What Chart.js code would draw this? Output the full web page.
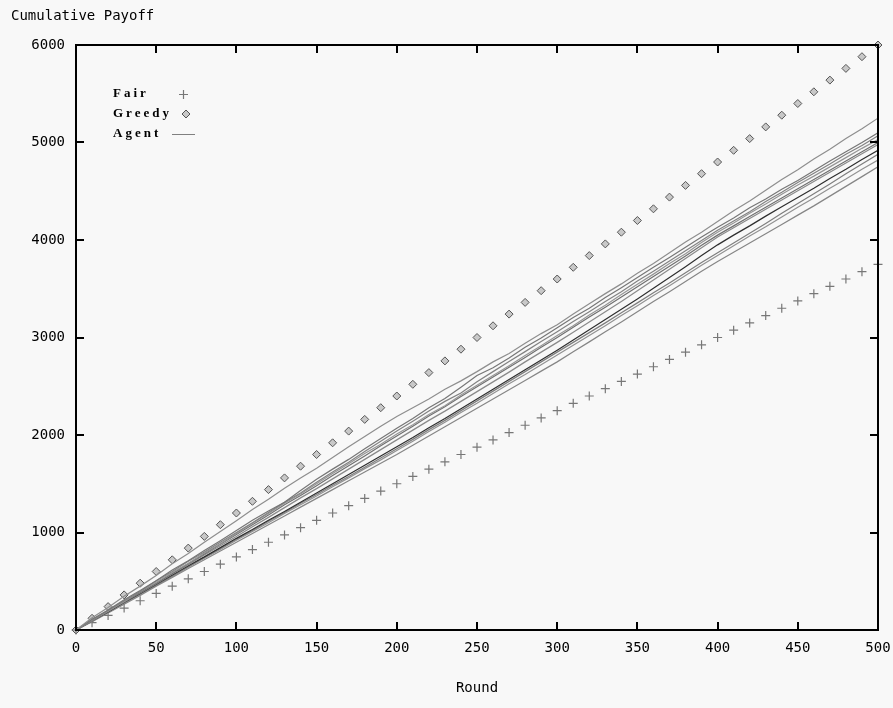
<!DOCTYPE html>
<html>
<head>
<meta charset="utf-8">
<script src="https://cdn.jsdelivr.net/npm/chart.js@4.4.1/dist/chart.umd.min.js"></script>
<style>
  html, body { margin: 0; padding: 0; background: #f8f8f8; }
  #wrap { width: 893px; height: 708px; }
</style>
</head>
<body>
<div id="wrap"><canvas id="payoffChart"></canvas></div>
<script>
// rounds sampled every 10
const rounds = [0, 10, 20, 30, 40, 50, 60, 70, 80, 90, 100, 110, 120, 130, 140, 150, 160, 170, 180, 190,
  200, 210, 220, 230, 240, 250, 260, 270, 280, 290, 300, 310, 320, 330, 340, 350, 360, 370, 380, 390,
  400, 410, 420, 430, 440, 450, 460, 470, 480, 490, 500];

const fair = [0, 75, 150, 225, 300, 375, 450, 525, 600, 675, 750, 825, 900, 975, 1050, 1125, 1200, 1275, 1350, 1425,
  1500, 1575, 1650, 1725, 1800, 1875, 1950, 2025, 2100, 2175, 2250, 2325, 2400, 2475, 2550, 2625, 2700, 2775, 2850, 2925,
  3000, 3075, 3150, 3225, 3300, 3375, 3450, 3525, 3600, 3675, 3750];

const greedy = [0, 120, 240, 360, 480, 600, 720, 840, 960, 1080, 1200, 1320, 1440, 1560, 1680, 1800, 1920, 2040, 2160, 2280,
  2400, 2520, 2640, 2760, 2880, 3000, 3120, 3240, 3360, 3480, 3600, 3720, 3840, 3960, 4080, 4200, 4320, 4440, 4560, 4680,
  4800, 4920, 5040, 5160, 5280, 5400, 5520, 5640, 5760, 5880, 6000];

// agent runs
const agent1 = [0, 125, 230, 345, 450, 560, 680, 785, 900, 1010, 1120,
  1235, 1340, 1455, 1560, 1660, 1770, 1880, 1985, 2090, 2190,
  2280, 2370, 2470, 2555, 2650, 2750, 2835, 2940, 3040, 3130,
  3240, 3345, 3450, 3550, 3660, 3760, 3870, 3980, 4080, 4190,
  4300, 4400, 4510, 4620, 4720, 4830, 4930, 5040, 5140, 5250];
const agent2 = [0, 110, 205, 310, 405, 505, 615, 710, 815, 915, 1020,
  1125, 1220, 1310, 1430, 1545, 1650, 1750, 1860, 1965, 2070,
  2170, 2280, 2375, 2490, 2610, 2690, 2790, 2900, 2995, 3100,
  3205, 3300, 3410, 3510, 3615, 3720, 3820, 3925, 4030, 4130,
  4225, 4330, 4420, 4520, 4610, 4710, 4810, 4905, 5000, 5100];
const agent3 = [0, 95, 200, 300, 395, 505, 600, 705, 800, 900, 1000,
  1100, 1205, 1310, 1405, 1515, 1620, 1720, 1830, 1935, 2040,
  2140, 2245, 2345, 2430, 2545, 2650, 2755, 2855, 2960, 3060,
  3165, 3265, 3370, 3470, 3580, 3680, 3785, 3890, 3995, 4100,
  4195, 4290, 4395, 4490, 4590, 4685, 4780, 4880, 4970, 5070];
const agent4 = [0, 100, 195, 290, 395, 490, 590, 685, 790, 885, 990,
  1095, 1195, 1300, 1395, 1500, 1605, 1705, 1810, 1905, 2010,
  2105, 2210, 2300, 2410, 2510, 2610, 2710, 2815, 2915, 3020,
  3120, 3230, 3330, 3440, 3545, 3650, 3760, 3860, 3975, 4080,
  4175, 4275, 4370, 4470, 4565, 4655, 4750, 4845, 4940, 5030];
const agent5 = [0, 100, 200, 290, 385, 480, 580, 680, 780, 880, 980,
  1080, 1180, 1285, 1380, 1480, 1585, 1685, 1785, 1890, 1990,
  2090, 2195, 2290, 2395, 2495, 2595, 2695, 2795, 2900, 3000,
  3105, 3210, 3310, 3415, 3520, 3625, 3730, 3835, 3945, 4050,
  4145, 4240, 4335, 4430, 4525, 4620, 4715, 4810, 4905, 5000];
const agent6 = [0, 95, 190, 290, 380, 475, 575, 670, 770, 865, 960,
  1060, 1155, 1255, 1355, 1450, 1550, 1650, 1750, 1850, 1950,
  2050, 2150, 2245, 2345, 2445, 2545, 2645, 2750, 2850, 2950,
  3055, 3160, 3265, 3370, 3480, 3590, 3700, 3810, 3920, 4030,
  4125, 4220, 4315, 4410, 4505, 4600, 4695, 4790, 4885, 4980];
const agent7 = [0, 95, 185, 285, 375, 470, 565, 660, 750, 845, 940,
  1030, 1125, 1215, 1310, 1405, 1500, 1595, 1690, 1785, 1880,
  1975, 2075, 2170, 2270, 2370, 2470, 2570, 2670, 2770, 2870,
  2975, 3080, 3185, 3290, 3395, 3505, 3615, 3725, 3840, 3950,
  4050, 4145, 4245, 4340, 4435, 4530, 4630, 4725, 4825, 4920];
const agent8 = [0, 90, 185, 275, 370, 460, 555, 650, 745, 835, 930,
  1020, 1115, 1205, 1300, 1390, 1485, 1575, 1670, 1765, 1860,
  1955, 2055, 2150, 2250, 2350, 2450, 2550, 2650, 2750, 2850,
  2950, 3050, 3150, 3255, 3355, 3460, 3560, 3665, 3770, 3870,
  3970, 4070, 4170, 4275, 4375, 4475, 4575, 4680, 4780, 4880];
const agent9 = [0, 90, 180, 275, 365, 460, 550, 645, 735, 825, 920,
  1010, 1100, 1195, 1285, 1375, 1470, 1560, 1655, 1745, 1840,
  1935, 2035, 2130, 2230, 2325, 2425, 2525, 2620, 2720, 2820,
  2920, 3020, 3120, 3225, 3325, 3430, 3530, 3635, 3740, 3840,
  3940, 4040, 4135, 4235, 4335, 4430, 4530, 4625, 4725, 4820];
const agent10 = [0, 85, 175, 265, 355, 450, 540, 630, 720, 810, 900,
  990, 1080, 1170, 1260, 1350, 1440, 1530, 1620, 1710, 1800,
  1895, 1990, 2085, 2180, 2275, 2370, 2465, 2560, 2655, 2750,
  2855, 2955, 3060, 3160, 3265, 3370, 3470, 3575, 3680, 3780,
  3875, 3970, 4065, 4160, 4255, 4350, 4450, 4550, 4650, 4750];

const agentRuns = [agent1, agent2, agent3, agent4, agent5, agent6, agent7, agent8, agent9, agent10];
const agentColors = ["#8e8e8e", "#767676", "#828282", "#969696", "#707070", "#8a8a8a", "#2e2e2e", "#7e7e7e", "#929292", "#868686"];

const xTicks = [0, 50, 100, 150, 200, 250, 300, 350, 400, 450, 500];
const yTicks = [0, 1000, 2000, 3000, 4000, 5000, 6000];

const toXY = (vals) => vals.map((v, i) => ({ x: rounds[i], y: v }));

const datasets = agentRuns.map((run, i) => ({
  label: "Agent",
  data: toXY(run),
  borderColor: agentColors[i],
  borderWidth: 1.2,
  pointRadius: 0,
  fill: false,
  tension: 0,
}));

datasets.push({
  label: "Fair",
  data: toXY(fair),
  showLine: false,
  pointStyle: "cross",
  pointRadius: 4.5,
  borderColor: "#777777",
  borderWidth: 1.2,
  clip: false,
});
datasets.push({
  label: "Greedy",
  data: toXY(greedy),
  showLine: false,
  pointStyle: "rectRot",
  pointRadius: 4,
  borderColor: "#555555",
  backgroundColor: "#c8c8c8",
  borderWidth: 1,
  clip: false,
});

const MONO = "'DejaVu Sans Mono', monospace";

// frame, inward ticks, titles and legend like the old gnuplot plot
const framePlugin = {
  id: "frame",
  afterDraw(chart) {
    const { ctx, chartArea: a, scales } = chart;
    ctx.save();
    ctx.strokeStyle = "#000";
    ctx.lineWidth = 2;
    ctx.strokeRect(a.left, a.top, a.right - a.left, a.bottom - a.top);
    ctx.beginPath();
    xTicks.forEach((t) => {
      const px = Math.round(scales.x.getPixelForValue(t));
      ctx.moveTo(px, a.bottom); ctx.lineTo(px, a.bottom - 8);
      ctx.moveTo(px, a.top); ctx.lineTo(px, a.top + 8);
    });
    yTicks.forEach((t) => {
      const py = Math.round(scales.y.getPixelForValue(t));
      ctx.moveTo(a.left, py); ctx.lineTo(a.left + 8, py);
      ctx.moveTo(a.right, py); ctx.lineTo(a.right - 8, py);
    });
    ctx.stroke();

    ctx.fillStyle = "#000";
    ctx.font = "14px " + MONO;
    ctx.textBaseline = "middle";
    ctx.textAlign = "left";
    ctx.fillText("Cumulative Payoff", 11, 16);
    ctx.textAlign = "center";
    ctx.fillText("Round", (a.left + a.right) / 2, 688);

    // legend
    ctx.font = "bold 13px 'Liberation Serif', serif";
    ctx.letterSpacing = "3px";
    ctx.textAlign = "left";
    ctx.fillText("Fair", 113, 94);
    ctx.fillText("Greedy", 113, 114);
    ctx.fillText("Agent", 113, 134);
    ctx.letterSpacing = "0px";

    ctx.strokeStyle = "#777777";
    ctx.lineWidth = 1.2;
    ctx.beginPath();
    ctx.moveTo(179, 94.5); ctx.lineTo(188, 94.5);
    ctx.moveTo(183.5, 90); ctx.lineTo(183.5, 99);
    ctx.stroke();

    ctx.lineWidth = 1;
    ctx.strokeStyle = "#555555";
    ctx.fillStyle = "#c8c8c8";
    ctx.beginPath();
    ctx.moveTo(186, 110); ctx.lineTo(190, 114); ctx.lineTo(186, 118); ctx.lineTo(182, 114);
    ctx.closePath();
    ctx.fill();
    ctx.stroke();

    ctx.strokeStyle = "#808080";
    ctx.beginPath();
    ctx.moveTo(172, 134.5); ctx.lineTo(195, 134.5);
    ctx.stroke();
    ctx.restore();
  },
};

const ctx = document.getElementById("payoffChart").getContext("2d");

new Chart(ctx, {
  type: "line",
  data: { datasets },
  plugins: [framePlugin],
  options: {
    responsive: true,
    maintainAspectRatio: false,
    animation: false,
    layout: { padding: { top: 45, right: 15, left: 0, bottom: 0 } },
    plugins: {
      legend: { display: false },
      tooltip: { enabled: false },
    },
    scales: {
      x: {
        type: "linear",
        min: 0,
        max: 500,
        afterFit: (s) => { s.height = 78; s.paddingLeft = 0; s.paddingRight = 0; },
        afterBuildTicks: (s) => { s.ticks = xTicks.map((v) => ({ value: v })); },
        grid: { display: false, drawTicks: false },
        border: { display: false },
        ticks: {
          color: "#000", padding: 10, maxRotation: 0,
          font: { family: MONO, size: 14 },
          callback: (v) => String(v),
        },
      },
      y: {
        min: 0,
        max: 6000,
        afterFit: (s) => { s.width = 76; s.paddingTop = 0; s.paddingBottom = 0; },
        afterBuildTicks: (s) => { s.ticks = yTicks.map((v) => ({ value: v })); },
        grid: { display: false, drawTicks: false },
        border: { display: false },
        ticks: {
          color: "#000", padding: 11,
          font: { family: MONO, size: 14 },
          callback: (v) => String(v),
        },
      },
    },
  },
});
</script>
</body>
</html>
